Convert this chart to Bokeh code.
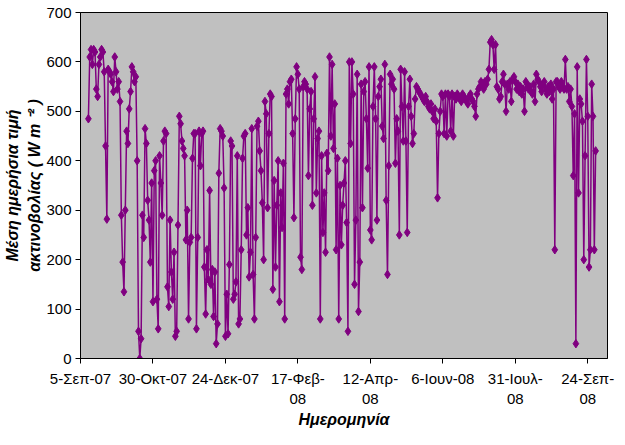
import numpy as np
import pandas as pd
from bokeh.plotting import figure
from bokeh.models import FixedTicker, Range1d
from bokeh.embed import file_html
from bokeh.resources import INLINE

# ---- data (daily mean irradiance, W m^-2) ----
axis_start = "2007-09-05"
axis_end = "2008-10-09"
first_day = "2007-09-11"

sep07 = [485, 610, 625, 595, 625, 620, 545, 530, 595, 610, 625, 620, 580, 430, 282, 585, 580, 575, 560, 540]
oct07 = [610, 580, 545, 560, 520, 290, 195, 135, 300, 460, 435, 505, 540, 590, 580, 560, 570, 400, 55, 0,
         40, 290, 245, 465, 435, 320, 280, 195, 355, 115, 380]
nov07 = [400, 120, 60, 410, 355, 290, 440, 460, 455, 145, 105, 280, 175, 120, 215, 45, 55, 270, 490, 475,
         440, 425, 410, 240, 300, 80, 235, 245, 405, 455]
dec07 = [455, 60, 245, 460, 390, 455, 460, 185, 90, 220, 160, 340, 150, 180, 85, 175, 30, 70, 375, 465,
         460, 450, 345, 45, 130, 50, 190, 440, 430, 120, 130]
jan08 = [155, 410, 70, 80, 220, 405, 450, 455, 250, 305, 165, 215, 465, 170, 80, 245, 470, 480, 420, 380,
         315, 200, 520, 495, 305, 455, 535, 530, 140, 360, 185]
feb08 = [310, 400, 115, 335, 265, 395, 80, 535, 545, 515, 560, 565, 455, 285, 485, 590, 575, 545, 205, 180,
         550, 560, 555, 545, 370, 505, 540, 310, 485]
mar08 = [570, 335, 445, 460, 80, 410, 255, 335, 215, 415, 380, 610, 450, 595, 425, 515, 220, 405, 80, 350,
         230, 310, 355, 400, 275, 55, 600, 435, 600, 535, 150]
apr08 = [280, 575, 95, 195, 555, 305, 540, 560, 485, 385, 590, 260, 240, 510, 590, 485, 280, 530, 550, 565,
         470, 445, 595, 320, 170, 390, 575, 555, 565, 545]
may08 = [395, 485, 460, 250, 585, 510, 440, 580, 440, 255, 510, 565, 490, 435, 455, 525, 550, 545, 540, 535,
         530, 525, 520, 530, 520, 510, 505, 515, 500, 485, 505]
jun08 = [480, 325, 455, 500, 535, 530, 455, 535, 450, 535, 530, 460, 535, 450, 530, 525, 535, 530, 525, 520,
         535, 530, 525, 520, 515, 530, 535, 525, 520, 510]
jul08 = [490, 535, 545, 550, 560, 555, 545, 560, 555, 565, 585, 640, 645, 635, 585, 635, 550, 545, 525, 530,
         560, 575, 555, 500, 555, 545, 560, 520, 565, 570, 560]
aug08 = [545, 555, 540, 550, 535, 545, 500, 560, 555, 545, 550, 540, 535, 555, 520, 575, 565, 560, 550, 540,
         555, 560, 545, 535, 550, 540, 555, 525, 545, 220, 560]
sep08 = [560, 550, 545, 560, 550, 545, 605, 545, 550, 520, 545, 510, 370, 495, 30, 590, 335, 525, 515, 480,
         200, 410, 605, 490, 185, 220, 555, 490, 220, 420]

tick_dates = ["2007-09-05", "2007-10-30", "2007-12-24", "2008-02-17",
              "2008-04-12", "2008-06-06", "2008-07-31", "2008-09-24"]
tick_labels = ["5-Σεπ-07", "30-Οκτ-07", "24-Δεκ-07", "17-Φεβ-\n08",
               "12-Απρ-\n08", "6-Ιουν-08", "31-Ιουλ-\n08", "24-Σεπ-\n08"]
y_ticks = [0, 100, 200, 300, 400, 500, 600, 700]

x_title = "Ημερομηνία"
y_title = "Μέση ημερήσια τιμή\nακτινοβολίας ( W m ⁻² )"

# ---- build ----
values = sep07 + oct07 + nov07 + dec07 + jan08 + feb08 + mar08 + apr08 + may08 + jun08 + jul08 + aug08 + sep08
t0 = pd.Timestamp(axis_start)
dates = pd.date_range(first_day, periods=len(values), freq="D")
days = np.asarray((dates - t0).days, dtype=float)
tick_x = [int((pd.Timestamp(d) - t0).days) for d in tick_dates]
x_max = (pd.Timestamp(axis_end) - t0).days

FONT = "Liberation Sans"
PURPLE = "#800080"

p = figure(frame_width=527, frame_height=346, output_backend="svg", toolbar_location=None,
           x_range=Range1d(0, x_max), y_range=Range1d(0, 700),
           min_border_left=77, min_border_right=13, min_border_top=12, min_border_bottom=66)
p.background_fill_color = "#C0C0C0"
p.border_fill_color = "white"
p.outline_line_color = "black"
p.outline_line_width = 1
p.xgrid.visible = False
p.ygrid.visible = False

p.line(days, values, line_color=PURPLE, line_width=1.5)
p.scatter(days, values, marker="diamond", size=8.5, fill_color=PURPLE, line_color=PURPLE)

p.xaxis.ticker = FixedTicker(ticks=tick_x)
p.xaxis.major_label_overrides = {tx: lab for tx, lab in zip(tick_x, tick_labels)}
p.yaxis.ticker = FixedTicker(ticks=y_ticks)

for ax in (p.xaxis[0], p.yaxis[0]):
    ax.minor_tick_line_color = None
    ax.major_tick_in = 0
    ax.major_tick_out = 5
    ax.major_tick_line_color = "black"
    ax.axis_line_color = "black"
    ax.major_label_text_font = FONT
    ax.major_label_text_font_size = "15px"
    ax.major_label_text_color = "black"
    ax.axis_label_text_font = FONT
    ax.axis_label_text_font_size = "16px"
    ax.axis_label_text_font_style = "bold italic"
    ax.axis_label_text_color = "black"

p.xaxis.axis_label = x_title
p.xaxis.major_label_standoff = 6
p.xaxis.axis_label_standoff = 1
p.yaxis.axis_label = y_title
p.yaxis.major_label_standoff = 4
p.yaxis.axis_label_standoff = 0
p.yaxis.axis_label_text_line_height = 1.35

open("out.html", "w").write(file_html(p, INLINE))
